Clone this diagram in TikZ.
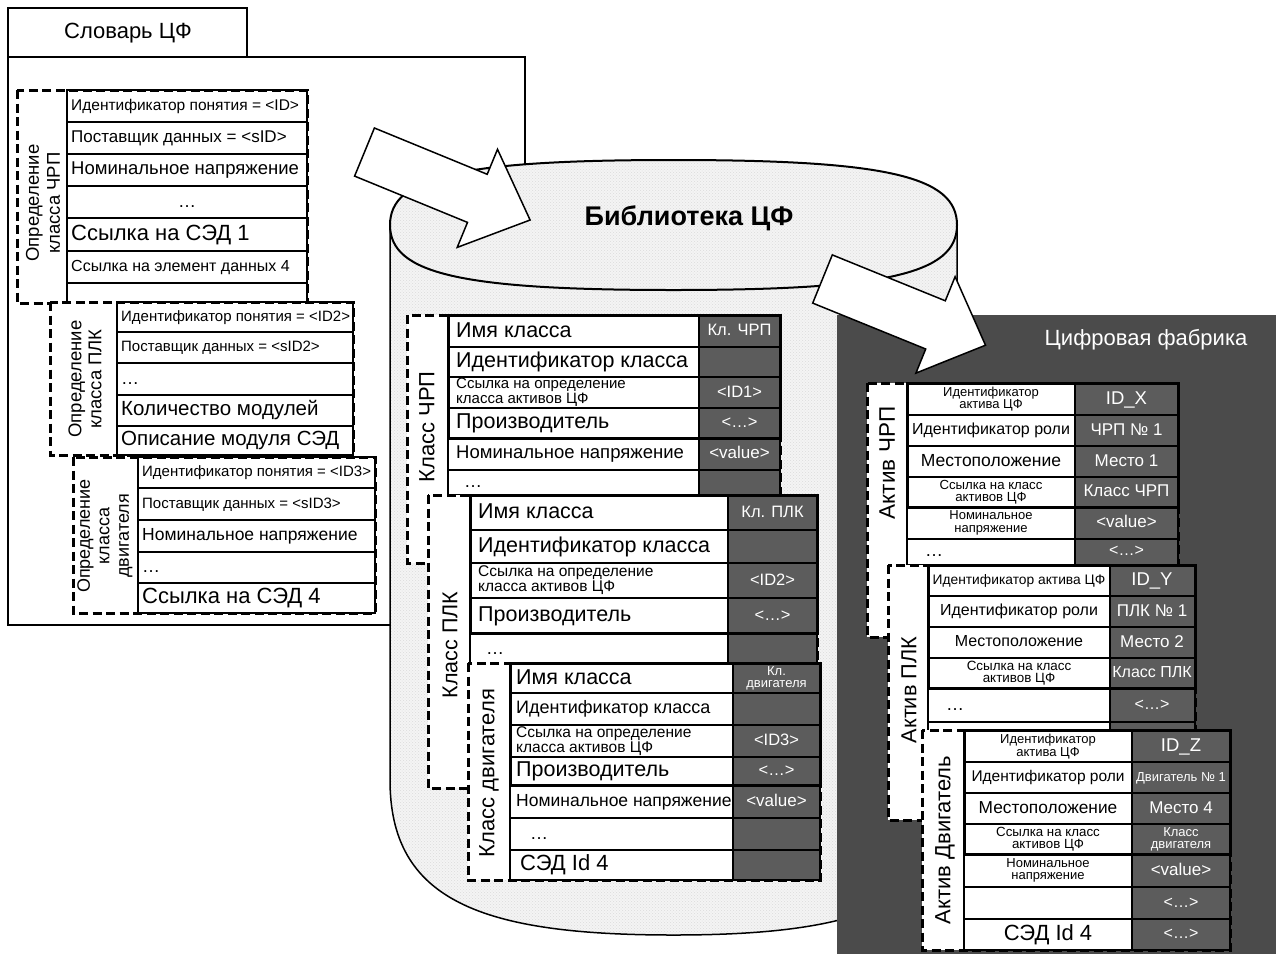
\documentclass[tikz,border=0pt]{standalone}
\usepackage{fontspec}
\setmainfont{Liberation Sans}
\usetikzlibrary{patterns}
\definecolor{valgray}{HTML}{5C5C5C}
\definecolor{panelgray}{HTML}{4B4B4B}
\definecolor{cylgray}{HTML}{F4F4F4}
\newcommand\vstrut{\rule[-0.18em]{0pt}{0.92em}}
\begin{document}
\begin{tikzpicture}[x=1pt,y=-1pt,
  frame/.style={draw=black,line width=1.5pt},
  cell/.style={draw=black,line width=1.1pt},
  core/.style={draw=black,line width=3pt},
  dashbox/.style={draw=black,line width=3pt,dash pattern=on 9pt off 4.5pt},
  fz/.style={font=\fontsize{#1}{#1}\selectfont},
  txt/.style={inner sep=0pt,execute at begin node=\vstrut},
  lt/.style={txt,anchor=west},
  ct/.style={txt,anchor=center,align=center},
  vt/.style={txt,anchor=center,align=center,text=white},
  rot/.style={inner sep=0pt,rotate=90,align=center},
  stipple/.style={pattern=crosshatch dots,pattern color=black!14},
  blockarrow/.style={draw=black,fill=white,line width=1.5pt,line join=miter}
]
\useasboundingbox (0,0) rectangle (1276,954);
\fill[white] (0,0) rectangle (1276,954);

% ---------------- Dictionary ----------------
\draw[frame] (8,57) rectangle (525,625);
\draw[frame,fill=white] (8,8) rectangle (247,57);
\node[txt,fz=22] (dictTitle) at (128,33) {Словарь ЦФ};

% definition of the VFD class
\fill[white] (17,90) rectangle (307,303);
\draw[cell] (67,90) rectangle (307,303);
\foreach \y in {122,154,186,218,251,283} \draw[cell] (67,\y) -- (307,\y);
\draw[dashbox] (17,90) rectangle (307,303);
\node[rot,font=\fontsize{18.5}{21}\selectfont] (defA) at (43,203) {Определение\\класса ЧРП};
\node[lt,fz=15.5] (defA1) at (71,106) {Идентификатор понятия = <ID>};
\node[lt,fz=17] (defA2) at (71,138) {Поставщик данных = <sID>};
\node[lt,fz=18.5] (defA3) at (71,170) {Номинальное напряжение};
\node[ct,fz=18] (defA4) at (187,202) {…};
\node[lt,fz=22] (defA5) at (71,234.5) {Ссылка на СЭД 1};
\node[lt,fz=16] (defA6) at (71,267) {Ссылка на элемент данных 4};

% definition of the PLC class
\fill[white] (50,302) rectangle (353,455);
\draw[cell] (117,302) rectangle (353,455);
\foreach \y in {332,363,395,426} \draw[cell] (117,\y) -- (353,\y);
\draw[dashbox] (50,302) rectangle (353,455);
\node[rot,font=\fontsize{18.5}{20}\selectfont] (defB) at (85,379) {Определение\\класса ПЛК};
\node[lt,fz=15] (defB1) at (121,317) {Идентификатор понятия = <ID2>};
\node[lt,fz=15] (defB2) at (121,347.5) {Поставщик данных = <sID2>};
\node[lt,fz=18] (defB3) at (121,379) {…};
\node[lt,fz=20.5] (defB4) at (121,410.5) {Количество модулей};
\node[lt,fz=20.5] (defB5) at (121,440.5) {Описание модуля СЭД};

% definition of the motor class
\fill[white] (73,457) rectangle (375,613);
\draw[cell] (138,457) rectangle (375,613);
\foreach \y in {488,520,552,583} \draw[cell] (138,\y) -- (375,\y);
\draw[dashbox] (73,457) rectangle (375,613);
\node[rot,font=\fontsize{18}{19.5}\selectfont] (defC) at (105,536) {Определение\\класса\\двигателя};
\node[lt,fz=15] (defC1) at (142,472.5) {Идентификатор понятия = <ID3>};
\node[lt,fz=15] (defC2) at (142,504) {Поставщик данных = <sID3>};
\node[lt,fz=17.5] (defC3) at (142,536) {Номинальное напряжение};
\node[lt,fz=18] (defC4) at (142,567.5) {…};
\node[lt,fz=22] (defC5) at (142,598) {Ссылка на СЭД 4};

% ---------------- Library cylinder ----------------
\fill[cylgray] (390,225) -- (390,780) .. controls (390,900) and (480,935) .. (673.5,935)
  .. controls (867,935) and (957,900) .. (957,780) -- (957,225) -- cycle;
\fill[stipple] (390,225) -- (390,780) .. controls (390,900) and (480,935) .. (673.5,935)
  .. controls (867,935) and (957,900) .. (957,780) -- (957,225) -- cycle;
\draw[frame] (390,225) -- (390,780) .. controls (390,900) and (480,935) .. (673.5,935)
  .. controls (867,935) and (957,900) .. (957,780) -- (957,225);
\fill[cylgray] (390,225) .. controls (390,176.25) and (460.9,160) .. (673.5,160)
  .. controls (886.1,160) and (957,176.25) .. (957,225)
  .. controls (957,273.75) and (886.1,290) .. (673.5,290)
  .. controls (460.9,290) and (390,273.75) .. (390,225) -- cycle;
\draw[stipple,line width=2pt] (390,225) .. controls (390,176.25) and (460.9,160) .. (673.5,160)
  .. controls (886.1,160) and (957,176.25) .. (957,225)
  .. controls (957,273.75) and (886.1,290) .. (673.5,290)
  .. controls (460.9,290) and (390,273.75) .. (390,225) -- cycle;
\node[txt,font=\fontsize{27}{27}\selectfont\bfseries] (libTitle) at (689,218) {Библиотека ЦФ};

% class VFD
\fill[white] (407,315) rectangle (780,563);
\fill[valgray] (699,315) rectangle (780,495);
\draw[cell] (448,315) rectangle (780,495);
\draw[cell] (699,315) -- (699,495);
\foreach \y in {347,377,408,438,470} \draw[cell] (448,\y) -- (780,\y);
\draw[core] (448,315) rectangle (780,438);
\draw[dashbox] (407,315) rectangle (780,563);
\node[rot,fz=22] (clsA) at (427,427) {Класс ЧРП};
\node[lt,fz=21.5] (clsA1) at (456,331) {Имя класса};
\node[lt,fz=21.5] (clsA2) at (456,362) {Идентификатор класса};
\node[lt,align=left,font=\fontsize{15}{13}\selectfont] (clsA3) at (456,392.5) {Ссылка на определение\\класса активов ЦФ};
\node[lt,fz=21.5] (clsA4) at (456,423) {Производитель};
\node[lt,fz=18.5] (clsA5) at (456,454) {Номинальное напряжение};
\node[lt,fz=18] (clsA6) at (464,482) {…};
\node[vt,fz=16.5] (clsAv1) at (739.5,331) {Кл. ЧРП};
\node[vt,fz=16.5] (clsAv3) at (739.5,392.5) {<ID1>};
\node[vt,fz=16.5] (clsAv4) at (739.5,423) {<…>};
\node[vt,fz=17] (clsAv5) at (739.5,454) {<value>};

% class PLC
\fill[white] (428,495) rectangle (817,788);
\fill[valgray] (728,495) rectangle (817,665);
\draw[cell] (470,495) rectangle (817,665);
\draw[cell] (728,495) -- (728,665);
\foreach \y in {530,563,598,633} \draw[cell] (470,\y) -- (817,\y);
\draw[core] (470,495) rectangle (817,633);
\draw[dashbox] (428,495) rectangle (817,788);
\node[rot,fz=21.5] (clsB) at (450,645) {Класс ПЛК};
\node[lt,fz=21.5] (clsB1) at (478,512.5) {Имя класса};
\node[lt,fz=21.5] (clsB2) at (478,546.5) {Идентификатор класса};
\node[lt,align=left,font=\fontsize{15.5}{13.5}\selectfont] (clsB3) at (478,580.5) {Ссылка на определение\\класса активов ЦФ};
\node[lt,fz=21.5] (clsB4) at (478,615.5) {Производитель};
\node[lt,fz=18] (clsB5) at (486,649) {…};
\node[vt,fz=16.5] (clsBv1) at (772.5,512.5) {Кл. ПЛК};
\node[vt,fz=16.5] (clsBv3) at (772.5,580.5) {<ID2>};
\node[vt,fz=16.5] (clsBv4) at (772.5,615.5) {<…>};

% class motor
\fill[white] (468,663) rectangle (820,880);
\fill[valgray] (733,663) rectangle (820,880);
\draw[cell] (510,663) rectangle (820,880);
\draw[cell] (733,663) -- (733,880);
\foreach \y in {693,725,757,785,818,850} \draw[cell] (510,\y) -- (820,\y);
\draw[core] (510,663) rectangle (820,785);
\draw[dashbox] (468,663) rectangle (820,880);
\node[rot,fz=22] (clsC) at (489,773) {Класс двигателя};
\node[lt,fz=21.5] (clsC1) at (516,678) {Имя класса};
\node[lt,fz=18] (clsC2) at (516,709) {Идентификатор класса};
\node[lt,align=left,font=\fontsize{15.5}{13.5}\selectfont] (clsC3) at (516,741) {Ссылка на определение\\класса активов ЦФ};
\node[lt,fz=21.5] (clsC4) at (516,771) {Производитель};
\node[lt,fz=17.5] (clsC5) at (516,801.5) {Номинальное напряжение};
\node[lt,fz=18] (clsC6) at (530,834) {…};
\node[lt,fz=22] (clsC7) at (520,865) {СЭД Id 4};
\node[vt,font=\fontsize{13}{12}\selectfont] (clsCv1) at (776.5,678) {Кл.\\двигателя};
\node[vt,fz=16.5] (clsCv3) at (776.5,741) {<ID3>};
\node[vt,fz=16.5] (clsCv4) at (776.5,771) {<…>};
\node[vt,fz=17] (clsCv5) at (776.5,801.5) {<value>};

% arrow from the dictionary into the library
\draw[blockarrow] (374.4,128) -- (487.2,174.3) -- (497.5,149.3) -- (530.1,220)
  -- (457.2,247.4) -- (467.5,222.4) -- (354.6,176.1) -- cycle;

% ---------------- Digital factory ----------------
\fill[panelgray] (837,315) rectangle (1276,954);
\node[txt,fz=22,text=white] (facTitle) at (1146,340) {Цифровая фабрика};

% arrow from the library into the factory
\draw[blockarrow] (832.3,254.9) -- (945.3,300.8) -- (955.1,276.7) -- (985.5,345.2)
  -- (915.9,373.1) -- (925.7,349.0) -- (812.7,303.1) -- cycle;

% asset VFD
\fill[white] (867,383) rectangle (1178,637);
\fill[valgray] (1075,383) rectangle (1178,565);
\draw[cell] (907,383) rectangle (1178,565);
\draw[cell] (1075,383) -- (1075,565);
\foreach \y in {415,446,477,507,539} \draw[cell] (907,\y) -- (1178,\y);
\draw[core] (907,383) rectangle (1178,507);
\draw[dashbox] (867,383) rectangle (1178,637);
\node[rot,fz=22.5] (astA) at (887,463) {Актив ЧРП};
\node[ct,font=\fontsize{13}{12.5}\selectfont] (astA1) at (991,399) {Идентификатор\\актива ЦФ};
\node[ct,fz=16] (astA2) at (991,430.5) {Идентификатор роли};
\node[ct,fz=17.5] (astA3) at (991,461.5) {Местоположение};
\node[ct,font=\fontsize{13.2}{12.5}\selectfont] (astA4) at (991,492) {Ссылка на класс\\активов ЦФ};
\node[ct,font=\fontsize{13}{12.5}\selectfont] (astA5) at (991,523) {Номинальное\\напряжение};
\node[lt,fz=18] (astA6) at (925,551) {…};
\node[vt,fz=18.5] (astAv1) at (1126.5,399) {ID\_X};
\node[vt,fz=17] (astAv2) at (1126.5,430.5) {ЧРП № 1};
\node[vt,fz=17] (astAv3) at (1126.5,461.5) {Место 1};
\node[vt,fz=17] (astAv4) at (1126.5,492) {Класс ЧРП};
\node[vt,fz=17] (astAv5) at (1126.5,523) {<value>};
\node[vt,fz=16] (astAv6) at (1126.5,551) {<…>};

% asset PLC
\fill[white] (888,565) rectangle (1195,820);
\fill[valgray] (1110,565) rectangle (1195,735);
\draw[cell] (928,565) rectangle (1195,735);
\draw[cell] (1110,565) -- (1110,735);
\foreach \y in {596,627,658,688,722} \draw[cell] (928,\y) -- (1195,\y);
\draw[core] (928,565) rectangle (1195,688);
\draw[dashbox] (888,565) rectangle (1195,820);
\node[rot,fz=21.7] (astB) at (909,690) {Актив ПЛК};
\node[ct,fz=13.8] (astB1) at (1019,580.5) {Идентификатор актива ЦФ};
\node[ct,fz=16] (astB2) at (1019,611.5) {Идентификатор роли};
\node[ct,fz=16] (astB3) at (1019,642.5) {Местоположение};
\node[ct,font=\fontsize{13.4}{12.5}\selectfont] (astB4) at (1019,673) {Ссылка на класс\\активов ЦФ};
\node[lt,fz=18] (astB5) at (946,705) {…};
\node[vt,fz=18.5] (astBv1) at (1152,580.5) {ID\_Y};
\node[vt,fz=17] (astBv2) at (1152,611.5) {ПЛК № 1};
\node[vt,fz=17] (astBv3) at (1152,642.5) {Место 2};
\node[vt,fz=16] (astBv4) at (1152,673) {Класс ПЛК};
\node[vt,fz=16] (astBv5) at (1152,705) {<…>};

% asset motor
\fill[white] (922,730) rectangle (1230,950);
\fill[valgray] (1132,730) rectangle (1230,950);
\draw[cell] (964,730) rectangle (1230,950);
\draw[cell] (1132,730) -- (1132,950);
\foreach \y in {762,793,824,854,887,919} \draw[cell] (964,\y) -- (1230,\y);
\draw[core] (964,730) rectangle (1230,854);
\draw[dashbox] (922,730) rectangle (1230,950);
\node[rot,fz=22] (astC) at (945,840) {Актив Двигатель};
\node[ct,font=\fontsize{13}{12.5}\selectfont] (astC1) at (1048,746.5) {Идентификатор\\актива ЦФ};
\node[ct,fz=15.5] (astC2) at (1048,777.5) {Идентификатор роли};
\node[ct,fz=17.3] (astC3) at (1048,808.5) {Местоположение};
\node[ct,font=\fontsize{13.3}{12.5}\selectfont] (astC4) at (1048,839) {Ссылка на класс\\активов ЦФ};
\node[ct,font=\fontsize{13}{12.5}\selectfont] (astC5) at (1048,870.5) {Номинальное\\напряжение};
\node[ct,fz=22] (astC7) at (1048,934.5) {СЭД Id 4};
\node[vt,fz=18.5] (astCv1) at (1181,746.5) {ID\_Z};
\node[vt,fz=13] (astCv2) at (1181,777.5) {Двигатель № 1};
\node[vt,fz=17] (astCv3) at (1181,808.5) {Место 4};
\node[vt,font=\fontsize{13}{12}\selectfont] (astCv4) at (1181,839) {Класс\\двигателя};
\node[vt,fz=17] (astCv5) at (1181,870.5) {<value>};
\node[vt,fz=16] (astCv6) at (1181,903) {<…>};
\node[vt,fz=16] (astCv7) at (1181,934.5) {<…>};
\end{tikzpicture}
\end{document}
